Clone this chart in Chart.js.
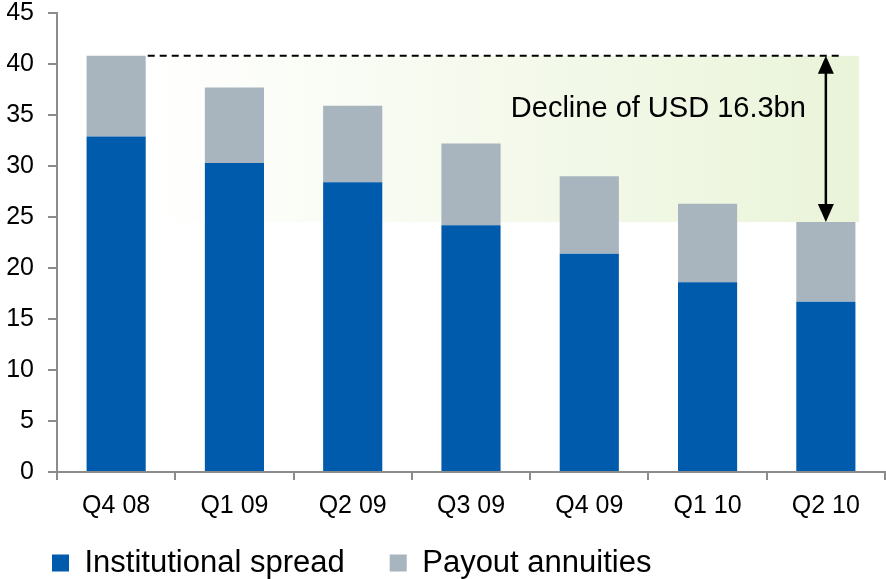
<!DOCTYPE html>
<html>
<head>
<meta charset="utf-8">
<script src="https://cdn.jsdelivr.net/npm/chart.js@4"></script>
<style>
    html, body { margin: 0; padding: 0; background: #fff; }
    #wrap { width: 886px; height: 579px; }
</style>
</head>
<body>
<div id="wrap"><canvas id="declineChart"></canvas></div>
<script>
// quarterly values, USD bn
const quarters = ['Q4 08', 'Q1 09', 'Q2 09', 'Q3 09', 'Q4 09', 'Q1 10', 'Q2 10'];
const institutionalSpread = [32.9, 30.3, 28.4, 24.2, 21.4, 18.6, 16.7];
const payoutAnnuities = [7.9, 7.4, 7.5, 8.0, 7.6, 7.7, 7.8];
const yTicks = [0, 5, 10, 15, 20, 25, 30, 35, 40, 45];
const declineLabel = 'Decline of USD 16.3bn';

const FONT = 'Liberation Sans, Arial, sans-serif';

// totals of first and last quarter -> the shaded "decline" band
const firstTotal = institutionalSpread[0] + payoutAnnuities[0];
const lastIdx = quarters.length - 1;
const lastTotal = institutionalSpread[lastIdx] + payoutAnnuities[lastIdx];

const declinePlugin = {
    id: 'decline',
    afterLayout(chart) {
        // legend padding doubles as item spacing, so pull the row up a bit
        chart.legend.top -= 17.5;
    },
    beforeDatasetsDraw(chart) {
        const { ctx } = chart;
        const x = chart.scales.x;
        const y = chart.scales.y;
        const left = x.getPixelForValue(0.25);
        const right = x.getPixelForValue(lastIdx + 0.28);
        const top = y.getPixelForValue(firstTotal);
        const bottom = y.getPixelForValue(lastTotal);
        const grad = ctx.createLinearGradient(left, 0, right, 0);
        grad.addColorStop(0, 'rgba(234, 244, 217, 0)');
        grad.addColorStop(1, 'rgba(234, 244, 217, 1)');
        ctx.save();
        ctx.fillStyle = grad;
        ctx.fillRect(left, top, right - left, bottom - top);
        ctx.restore();
    },
    afterDatasetsDraw(chart) {
        const { ctx } = chart;
        const x = chart.scales.x;
        const y = chart.scales.y;
        const top = y.getPixelForValue(firstTotal);
        const bottom = y.getPixelForValue(lastTotal);
        const arrowX = x.getPixelForValue(lastIdx);

        ctx.save();
        // dashed line from first bar top
        ctx.strokeStyle = '#000';
        ctx.lineWidth = 2;
        ctx.setLineDash([7, 5]);
        ctx.beginPath();
        ctx.moveTo(x.getPixelForValue(0.25) + 2, top);
        ctx.lineTo(x.getPixelForValue(lastIdx + 0.135), top);
        ctx.stroke();

        // double headed arrow
        ctx.setLineDash([]);
        ctx.lineWidth = 2.5;
        ctx.beginPath();
        ctx.moveTo(arrowX, top + 10);
        ctx.lineTo(arrowX, bottom - 10);
        ctx.stroke();
        ctx.fillStyle = '#000';
        ctx.beginPath();
        ctx.moveTo(arrowX, top);
        ctx.lineTo(arrowX - 8, top + 18);
        ctx.lineTo(arrowX + 8, top + 18);
        ctx.closePath();
        ctx.fill();
        ctx.beginPath();
        ctx.moveTo(arrowX, bottom);
        ctx.lineTo(arrowX - 8, bottom - 18);
        ctx.lineTo(arrowX + 8, bottom - 18);
        ctx.closePath();
        ctx.fill();

        // label
        ctx.font = '29px ' + FONT;
        ctx.textAlign = 'right';
        ctx.textBaseline = 'middle';
        ctx.fillText(declineLabel, arrowX - 20, y.getPixelForValue(35.6));
        ctx.restore();
    },
};

const ctx = document.querySelector('#declineChart');
new Chart(ctx, {
    type: 'bar',
    data: {
        labels: quarters,
        datasets: [
            {
                label: 'Institutional spread',
                data: institutionalSpread,
                backgroundColor: '#005BAC',
                barPercentage: 0.5,
                categoryPercentage: 1,
            },
            {
                label: 'Payout annuities',
                data: payoutAnnuities,
                backgroundColor: '#A8B4BE',
                barPercentage: 0.5,
                categoryPercentage: 1,
            },
        ],
    },
    options: {
        responsive: true,
        maintainAspectRatio: false,
        animation: false,
        layout: {
            padding: { left: 7, right: 1, top: 13, bottom: 0 },
        },
        plugins: {
            tooltip: { enabled: false },
            legend: {
                position: 'bottom',
                align: 'start',
                maxHeight: 59,
                labels: {
                    boxWidth: 17,
                    boxHeight: 17,
                    padding: 45,
                    color: '#000',
                    font: { family: FONT, size: 31 },
                },
            },
        },
        scales: {
            x: {
                stacked: true,
                afterFit: scale => {
                    scale.height = 48;
                },
                grid: {
                    drawOnChartArea: false,
                    drawTicks: true,
                    tickLength: 8,
                    color: '#8c8c8c',
                    lineWidth: 2,
                },
                border: { color: '#8c8c8c', width: 2 },
                ticks: {
                    color: '#000',
                    padding: 11,
                    font: { family: FONT, size: 25 },
                },
            },
            y: {
                stacked: true,
                min: 0,
                max: 45,
                afterFit: scale => {
                    scale.width = 50;
                    scale.paddingTop = 0;
                    scale.paddingBottom = 0;
                },
                afterBuildTicks: scale => {
                    scale.ticks = yTicks.map(v => ({ value: v }));
                },
                grid: {
                    drawOnChartArea: false,
                    drawTicks: true,
                    tickLength: 9,
                    color: '#8c8c8c',
                    lineWidth: 2,
                },
                border: { color: '#8c8c8c', width: 2 },
                ticks: {
                    color: '#000',
                    padding: 14,
                    font: { family: FONT, size: 25 },
                },
            },
        },
    },
    plugins: [declinePlugin],
});
</script>
</body>
</html>
